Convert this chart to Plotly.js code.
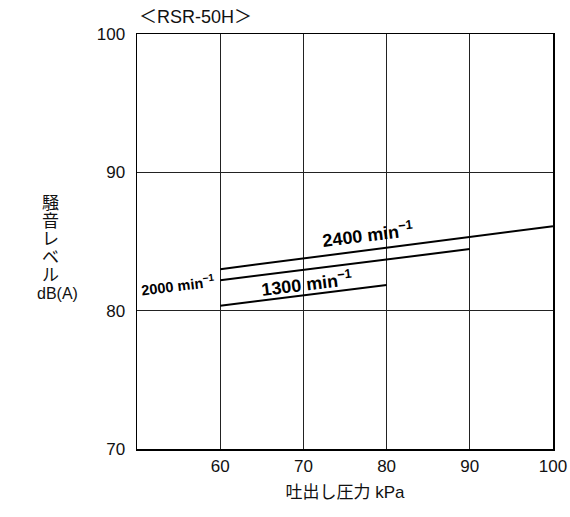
<!DOCTYPE html>
<html><head><meta charset="utf-8">
<script src="https://cdn.plot.ly/plotly-3.0.1.min.js"></script>
<style>body{margin:0;background:#fff}#c{width:570px;height:517px}</style>
</head><body><div id="c"></div>
<script>
const pressure2400 = [60, 100];
const level2400 = [83.0, 86.1];
const pressure2000 = [60, 90];
const level2000 = [82.2, 84.45];
const pressure1300 = [60, 80];
const level1300 = [80.35, 81.85];
const xTicks = [60, 70, 80, 90, 100];
const yTicks = [70, 80, 90, 100];
const yTitleLines = ['騒', '音', 'レ', 'ベ', 'ル', 'dB(A)'];

const F = 'Liberation Sans, Arial, Helvetica, sans-serif';
const JF = 'Liberation Sans, Noto Sans CJK JP, sans-serif';
const line = {color: '#000', width: 2};
const traces = [
  {x: pressure2400, y: level2400, mode: 'lines', line: line, hoverinfo: 'skip'},
  {x: pressure2000, y: level2000, mode: 'lines', line: line, hoverinfo: 'skip'},
  {x: pressure1300, y: level1300, mode: 'lines', line: line, hoverinfo: 'skip'}
];
const lab = (x, y, t, s) => ({x: x, y: y, xref: 'x', yref: 'y', text: t, showarrow: false,
  yshift: 4, textangle: -7, font: {family: F, size: s, color: '#000', weight: 'bold'}});
const yTitleAnn = yTitleLines.map((t, i) => {
  const last = i === yTitleLines.length - 1;
  return {xref: 'paper', yref: 'paper', x: last ? -0.19 : -0.207, y: 0.5,
    xanchor: 'center', yanchor: 'middle', yshift: 241.5 - 203 - 18 * i,
    text: t, showarrow: false,
    font: {family: JF, size: last ? 16 : 17, color: '#111'}};
});
const layout = {
  width: 570, height: 517,
  margin: {l: 137, r: 17, t: 34, b: 68},
  paper_bgcolor: '#fff', plot_bgcolor: '#fff',
  showlegend: false,
  xaxis: {range: [50, 100], tickvals: xTicks, ticktext: xTicks.map(String),
    showgrid: true, gridcolor: '#222', gridwidth: 1, zeroline: false,
    showline: true, linecolor: '#000', linewidth: 1.5, mirror: true, ticks: '',
    tickfont: {family: F, size: 17, color: '#111'}, ticklabelstandoff: 1,
    title: {text: '吐出し圧力 kPa', font: {family: JF, size: 17, color: '#111'}, standoff: 11}},
  yaxis: {range: [70, 100], tickvals: yTicks, ticktext: yTicks.map(String),
    showgrid: true, gridcolor: '#222', gridwidth: 1, zeroline: false,
    showline: true, linecolor: '#000', linewidth: 1.5, mirror: true, ticks: '',
    tickfont: {family: F, size: 17, color: '#111'}, ticklabelstandoff: 7},
  annotations: [
    lab(77.7, 85.25, '2400 min<sup>−1</sup>', 18),
    lab(70.4, 81.7, '1300 min<sup>−1</sup>', 18),
    lab(54.9, 81.6, '2000 min<sup>−1</sup>', 14.5),
    {xref: 'paper', yref: 'paper', x: 0.0, y: 1.0, xanchor: 'left', yanchor: 'bottom', yshift: 5,
     text: '＜RSR-50H＞', showarrow: false, font: {family: JF, size: 18, color: '#111'}}
  ].concat(yTitleAnn)
};
Plotly.newPlot('c', traces, layout, {staticPlot: true});
</script></body></html>
